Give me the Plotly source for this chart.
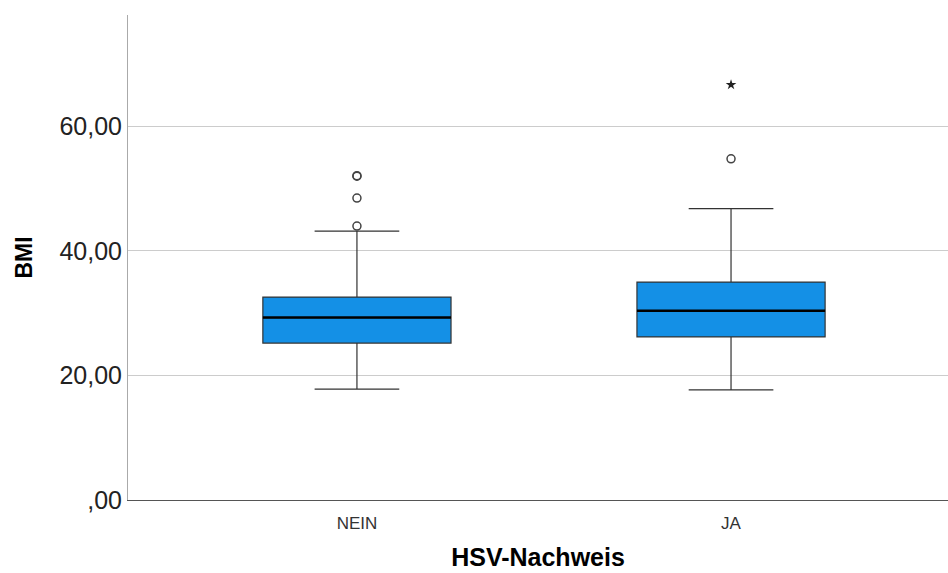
import plotly.graph_objects as go

categories = ["NEIN", "JA"]
q1 = [25.2, 26.2]
median = [29.3, 30.4]
q3 = [32.6, 35.0]
lower_whisker = [17.8, 17.7]
upper_whisker = [43.2, 46.8]
# outliers per group (circles) and extremes (stars)
outliers = [[44.0, 48.5, 52.0, 52.1], [54.8]]
extremes = [[], [66.7]]

y_ticks = [0, 20, 40, 60]
y_ticktext = [",00", "20,00", "40,00", "60,00"]

BOX_W = 0.503
fill = "#1490E6"
edge = "#333333"

fig = go.Figure()
for i, cat in enumerate(categories):
    fig.add_trace(go.Box(
        x=[i], q1=[q1[i]], median=[median[i]], q3=[q3[i]],
        lowerfence=[lower_whisker[i]], upperfence=[upper_whisker[i]],
        width=BOX_W, whiskerwidth=0.45, fillcolor=fill,
        line=dict(color=edge, width=1.2), boxpoints=False,
        name=cat, showlegend=False, hoverinfo="skip",
    ))
    # thick median line
    fig.add_trace(go.Scatter(
        x=[i - BOX_W / 2, i + BOX_W / 2], y=[median[i], median[i]],
        mode="lines", line=dict(color="black", width=2.5),
        showlegend=False, hoverinfo="skip",
    ))
    if outliers[i]:
        fig.add_trace(go.Scatter(
            x=[i] * len(outliers[i]), y=outliers[i], mode="markers",
            marker=dict(symbol="circle-open", size=8, color="#444444",
                        line=dict(width=1.5)),
            showlegend=False,
        ))
    if extremes[i]:
        fig.add_trace(go.Scatter(
            x=[i] * len(extremes[i]), y=extremes[i], mode="markers",
            marker=dict(symbol="star", size=8, color="#222222"),
            showlegend=False,
        ))

fig.update_layout(
    width=948, height=573,
    margin=dict(l=128, r=0, t=15, b=73),
    paper_bgcolor="white", plot_bgcolor="white",
    font=dict(family="Liberation Sans, Arial, sans-serif", color="#111111"),
    xaxis=dict(
        range=[-0.612, 1.58], tickvals=[0, 1], ticktext=categories,
        showgrid=False, zeroline=False, showline=True, linecolor="#555555",
        linewidth=1, ticks="", tickfont=dict(size=17, color="#333333"),
        ticklabelstandoff=8, automargin=False,
        title=dict(text="<b>HSV-Nachweis</b>", font=dict(size=25, color="black"),
                   standoff=16),
    ),
    yaxis=dict(
        range=[0, 77.9], tickvals=y_ticks, ticktext=y_ticktext,
        showgrid=True, gridcolor="#cccccc", gridwidth=1, zeroline=False,
        showline=True, linecolor="#aaaaaa", linewidth=1, ticks="",
        tickfont=dict(size=25, color="#222222"), automargin=False,
        title=dict(text="<b>BMI</b>", font=dict(size=23, color="black"),
                   standoff=20),
    ),
)

fig.write_html("out.html", config={"displayModeBar": False},
               post_script="document.body.style.margin='0';document.body.style.overflow='hidden';")
